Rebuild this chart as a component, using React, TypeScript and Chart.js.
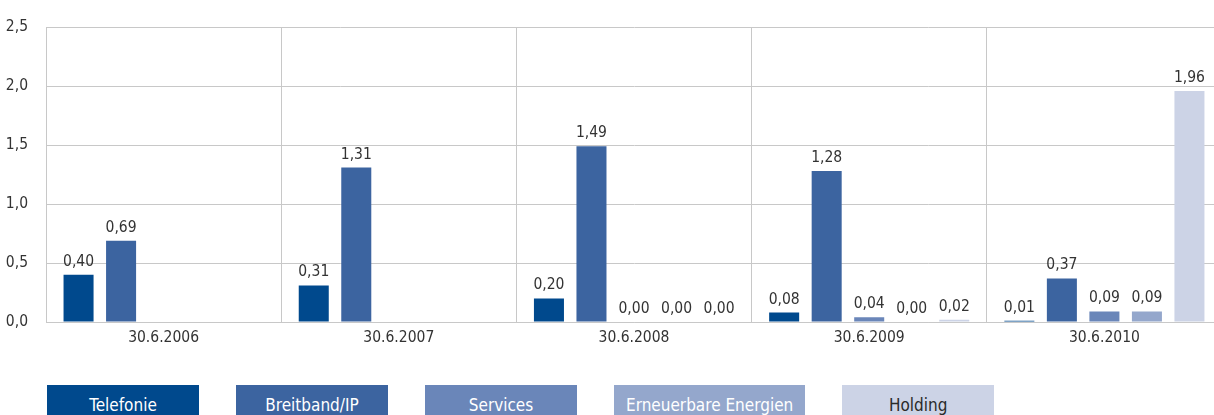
import React, { useEffect, useRef } from "react";
import { Chart, registerables } from "chart.js";

Chart.register(...registerables);

const categories = ["30.6.2006", "30.6.2007", "30.6.2008", "30.6.2009", "30.6.2010"];
const seriesNames = ["Telefonie", "Breitband/IP", "Services", "Erneuerbare Energien", "Holding"];
const telefonie = [0.4, 0.31, 0.2, 0.08, 0.01];
const breitband = [0.69, 1.31, 1.49, 1.28, 0.37];
const services = [null, null, 0.0, 0.04, 0.09];
const erneuerbare = [null, null, 0.0, 0.0, 0.09];
const holding = [null, null, 0.0, 0.02, 1.96];
const yMin = 0;
const yMax = 2.5;
const yStep = 0.5;

const seriesColors = ["#00498d", "#3c64a0", "#6a86b9", "#94a7cc", "#ccd3e6"];
const legendTextColors = ["#ffffff", "#ffffff", "#ffffff", "#ffffff", "#2a2a2a"];
const FONT = "'Liberation Sans Narrow', 'DejaVu Sans Condensed', 'Roboto Condensed', Roboto, sans-serif";
const TEXT = "#333333";

const fmt = (v: number, d: number) => v.toFixed(d).replace(".", ",");

const labelPlugin = {
  id: "barLabels",
  afterDatasetsDraw(chart: any) {
    const ctx = chart.ctx;
    ctx.save();
    ctx.font = `15.5px ${FONT}`;
    ctx.fillStyle = TEXT;
    ctx.textAlign = "center";
    ctx.textBaseline = "alphabetic";
    chart.data.datasets.forEach((ds: any, i: number) => {
      const meta = chart.getDatasetMeta(i);
      meta.data.forEach((el: any, j: number) => {
        const v = ds.data[j];
        if (v === null || v === undefined) return;
        ctx.fillText(fmt(v, 2), el.x, el.y - 9);
      });
    });
    ctx.restore();
  },
};

export default function App() {
  const ref = useRef<HTMLCanvasElement | null>(null);
  useEffect(() => {
    if (!ref.current) return;
    const allSeries = [telefonie, breitband, services, erneuerbare, holding];
    const chart = new Chart(ref.current, {
      type: "bar",
      data: {
        labels: categories,
        datasets: allSeries.map((d, i) => ({
          label: seriesNames[i],
          data: d as any,
          backgroundColor: seriesColors[i],
          borderWidth: 0,
          categoryPercentage: 0.904,
          barPercentage: 0.706,
        })),
      },
      options: {
        animation: false,
        responsive: false,
        maintainAspectRatio: false,
        layout: { padding: { top: 19, right: 18, left: 0, bottom: 0 } },
        plugins: {
          legend: { display: false },
          tooltip: { enabled: false },
        },
        scales: {
          x: {
            grid: { color: "#c8c8c8", lineWidth: 1, drawTicks: false, offset: true },
            border: { color: "#c8c8c8" },
            ticks: { color: TEXT, font: { family: FONT, size: 15.5 }, padding: 7 },
            afterFit: (s: any) => {
              s.height = 28;
            },
          },
          y: {
            min: yMin,
            max: yMax,
            grid: { color: "#c8c8c8", lineWidth: 1, drawTicks: false },
            border: { color: "#c8c8c8" },
            ticks: {
              stepSize: yStep,
              color: TEXT,
              font: { family: FONT, size: 15.5 },
              padding: 18,
              callback: (v: any) => fmt(Number(v), 1),
            },
            afterFit: (s: any) => {
              s.width = 46;
            },
          },
        },
      },
      plugins: [labelPlugin],
    });
    return () => chart.destroy();
  }, []);

  return (
    <div style={{ position: "fixed", left: 0, top: 0, width: 1240, height: 430, background: "#fff" }}>
      <canvas ref={ref} width={1240} height={350} style={{ display: "block", width: 1240, height: 350 }} />
      <div style={{ position: "absolute", left: 47, top: 385, display: "flex", gap: 37 }}>
        {seriesNames.map((n, i) => (
          <div
            key={n}
            style={{
              background: seriesColors[i],
              color: legendTextColors[i],
              minWidth: 152,
              height: 40,
              lineHeight: "40px",
              padding: "0 12px",
              boxSizing: "border-box",
              textAlign: "center",
              fontFamily: FONT,
              fontSize: 17,
              whiteSpace: "nowrap",
            }}
          >
            {n}
          </div>
        ))}
      </div>
    </div>
  );
}
